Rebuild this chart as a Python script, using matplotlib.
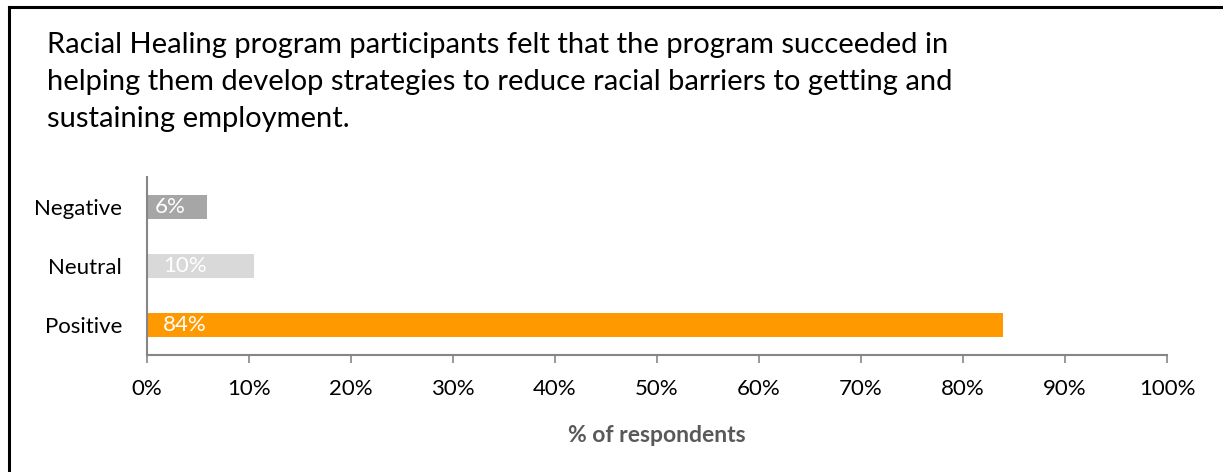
import matplotlib.pyplot as plt
from matplotlib.lines import Line2D
from matplotlib.ticker import PercentFormatter

plt.rcParams['font.family'] = ['Lato', 'DejaVu Sans']

# data (bottom to top)
categories = ['Positive', 'Neutral', 'Negative']
values = [83.9, 10.5, 5.9]
bar_labels = ['84%', '10%', '6%']
colors = ['#FF9900', '#D9D9D9', '#A6A6A6']
x_ticks = list(range(0, 101, 10))

title = ("Racial Healing program participants felt that the program succeeded in\n"
         "helping them develop strategies to reduce racial barriers to getting and\n"
         "sustaining employment.")

fig = plt.figure(figsize=(12.23, 4.72), dpi=100)
ax = fig.add_axes([0.1202, 0.2479, 0.834, 0.3771])

ax.barh(categories, values, height=0.4, color=colors)
for i, lab in enumerate(bar_labels):
    ax.annotate(lab, xy=(0, i), xytext=(8 if i == 2 else 16, 0),
                textcoords='offset pixels', va='center', ha='left',
                color='white', fontsize=16)

ax.set_xlim(0, 100)
ax.set_ylim(-0.5, 2.5)
ax.set_xticks(x_ticks)
ax.xaxis.set_major_formatter(PercentFormatter(decimals=0))
ax.tick_params(axis='x', length=6, width=1.2, color='#868686', labelsize=16, pad=11)
ax.tick_params(axis='y', length=0, labelsize=16, pad=18)
ax.set_xlabel('% of respondents', fontsize=16.5, fontweight='bold', color='#595959', labelpad=19)

for s in ['top', 'right']:
    ax.spines[s].set_visible(False)
for s in ['left', 'bottom']:
    ax.spines[s].set_color('#868686')
    ax.spines[s].set_linewidth(1.5)

fig.text(47 / 1223, 1 - 32 / 472, title, fontsize=21, va='top', ha='left',
         linespacing=1.53, color='black')

# frame lines (left and top only)
fig.add_artist(Line2D([9 / 1223, 9 / 1223], [0, 1 - 6.5 / 472], color='black', lw=2.2))
fig.add_artist(Line2D([9 / 1223, 1], [1 - 6.5 / 472, 1 - 6.5 / 472], color='black', lw=2.2))

fig.savefig('out.png', dpi=100)
